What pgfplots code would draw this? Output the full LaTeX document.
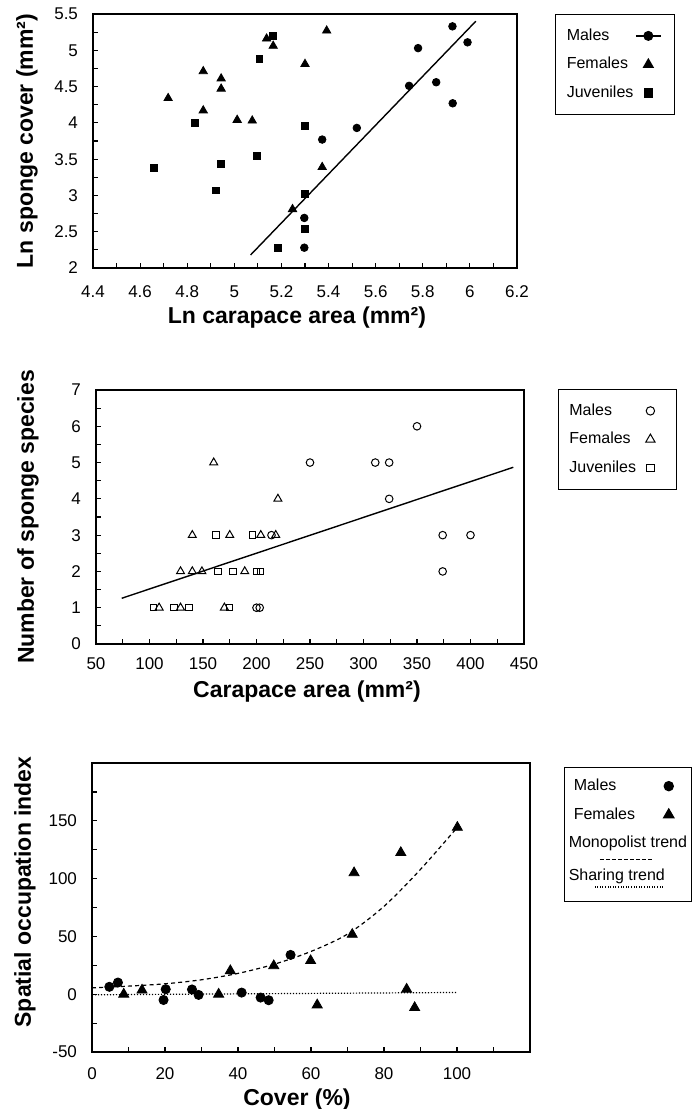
\documentclass[border=0pt]{standalone}
\usepackage{fontspec}
\setmainfont{Liberation Sans}
\usepackage{pgfplots}
\pgfplotsset{compat=1.18}

% dashed and dotted sample lines for the panel C key
\newcommand{\dashline}{\hbox to 29pt{\leaders\hbox to 3pt{\hss\vrule width 1.8pt height 0.5pt depth 0pt\hss}\hfill}}
\newcommand{\dotline}{\hbox to 36pt{\leaders\hbox to 1.3pt{\hss\vrule width 0.55pt height 0.55pt depth 0pt\hss}\hfill}}
\newcommand{\trendbox}{\vbox{\offinterlineskip
  \hbox{Monopolist trend}\kern3.9pt
  \hbox{\hspace*{15pt}\dashline}\kern4.5pt
  \hbox{Sharing trend}\kern1.4pt
  \hbox{\hspace*{12.5pt}\dotline}}}

\pgfplotsset{
  panel/.style={
    scale only axis, anchor=north west,
    axis line style={line width=1pt},
    tick pos=left, tick align=inside,
    major tick length=2.5pt, minor tick length=2.5pt,
    tick style={black, line width=0.6pt},
    /pgf/number format/assume math mode=true,
    ticklabel style={font=\fontsize{8.5}{10}\selectfont},
    yticklabel style={xshift=-4pt},
    label style={font=\bfseries\fontsize{11.5}{13}\selectfont},
    legend plot pos=right, legend cell align=left,
    legend image code/.code={
      \path[draw=none, fill=none] (0pt,-2pt) rectangle (15.75pt,2pt);
      \draw[mark repeat=2,mark phase=2,#1] plot coordinates {(0pt,0pt)(6.25pt,0pt)(12.5pt,0pt)};},
    legend style={anchor=north west, draw=black, line width=0.6pt,
      font=\fontsize{8}{9.6}\selectfont, inner xsep=3.5pt, inner ysep=5pt, row sep=3pt},
  },
}

\begin{document}
\begin{tikzpicture}
\path[use as bounding box] (0pt,0pt) rectangle (350pt,-554.5pt);

%% ---------------- A ----------------
\begin{axis}[panel,
  at={(46.5pt,-7pt)}, width=212pt, height=127pt,
  xmin=4.4, xmax=6.2, ymin=2, ymax=5.5,
  xtick={4.4,4.6,4.8,5,5.2,5.4,5.6,5.8,6,6.2},
  minor xtick={4.5,4.7,4.9,5.1,5.3,5.5,5.7,5.9,6.1},
  ytick={2,2.5,3,3.5,4,4.5,5,5.5},
  minor ytick={2.25,2.75,3.25,3.75,4.25,4.75,5.25},
  xticklabel style={yshift=-5.5pt},
  xlabel={Ln carapace area (mm²)},
  ylabel={Ln sponge cover (mm²)},
  xlabel style={at={(axis description cs:0.481,-0.197)}, anchor=center},
  ylabel style={at={(axis description cs:-0.156,0.5)}, anchor=center},
  legend style={at={(axis description cs:1.090,1)}},
]
% males
\addplot[forget plot, only marks, mark=*, mark size=1.9pt] coordinates {
  (5.926,5.33)(5.99,5.11)(5.78,5.03)(5.857,4.56)(5.742,4.51)
  (5.927,4.27)(5.52,3.93)(5.373,3.77)(5.297,2.69)(5.297,2.28)
};
% males regression
\addplot[forget plot, line width=0.7pt] coordinates {(5.069,2.18)(6.025,5.40)};
% females
\addplot[forget plot, only marks, mark=triangle*, mark size=2.4pt] coordinates {
  (4.719,4.34)(4.868,4.71)(4.944,4.61)(4.944,4.47)(4.868,4.17)
  (5.012,4.04)(5.076,4.03)(5.137,5.16)(5.165,5.06)(5.30,4.81)
  (5.392,5.27)(5.373,3.39)(5.247,2.81)
};
% juveniles
\addplot[forget plot, only marks, mark=square*, mark size=1.7pt] coordinates {
  (4.658,3.38)(4.832,4.00)(4.921,3.07)(4.944,3.44)(5.096,3.54)
  (5.106,4.88)(5.165,5.20)(5.30,3.96)(5.30,3.02)(5.30,2.54)(5.186,2.28)
};
\addlegendimage{black, line width=0.6pt, mark=*, mark size=2.2pt}
\addlegendentry{\makebox[32.25pt][l]{Males}}
\addlegendimage{only marks, mark=triangle*, mark size=2.7pt}
\addlegendentry{\makebox[32.25pt][l]{Females}}
\addlegendimage{only marks, mark=square*, mark size=2pt}
\addlegendentry{\makebox[32.25pt][l]{Juveniles}}
\node[font=\fontsize{10}{12}\selectfont] at (axis description cs:1.073,0.28) {A};
\end{axis}

%% ---------------- B ----------------
\begin{axis}[panel,
  at={(48pt,-195pt)}, width=214pt, height=127pt,
  xmin=50, xmax=450, ymin=0, ymax=7,
  xtick={50,100,...,450},
  minor xtick={75,125,...,425},
  ytick={0,1,...,7},
  minor ytick={0.5,1.5,...,6.5},
  xticklabel style={yshift=-3.5pt},
  xlabel={Carapace area (mm²)},
  ylabel={Number of sponge species},
  xlabel style={at={(axis description cs:0.493,-0.189)}, anchor=center},
  ylabel style={at={(axis description cs:-0.159,0.5)}, anchor=center},
  legend style={at={(axis description cs:1.079,1.004)}},
]
% males
\addplot[forget plot, only marks, mark=o, mark size=1.9pt, mark options={line width=0.5pt}] coordinates {
  (350,6)(250,5)(311,5)(324,5)(324,4)(214,3)(374,3)(400,3)(374,2)(200,1)(203,1)
};
% females
\addplot[forget plot, only marks, mark=triangle, mark size=2.3pt, mark options={line width=0.5pt}] coordinates {
  (160,5)(220,4)(140,3)(175,3)(204,3)(218,3)(129,2)(140,2)(149,2)(189,2)
  (109,1)(129,1)(170,1)
};
% juveniles
\addplot[forget plot, only marks, mark=square, mark size=1.6pt, mark options={line width=0.5pt}] coordinates {
  (162,3)(196,3)(164,2)(178,2)(200,2)(204,2)(104,1)(123,1)(137,1)(175,1)
};
% regression
\addplot[forget plot, line width=0.7pt] coordinates {(74,1.26)(440,4.87)};
\addlegendimage{only marks, mark=o, mark size=2.1pt, mark options={line width=0.5pt}}
\addlegendentry{\makebox[32.25pt][l]{Males}}
\addlegendimage{only marks, mark=triangle, mark size=2.7pt, mark options={line width=0.5pt}}
\addlegendentry{\makebox[32.25pt][l]{Females}}
\addlegendimage{only marks, mark=square, mark size=1.9pt, mark options={line width=0.5pt}}
\addlegendentry{\makebox[32.25pt][l]{Juveniles}}
\node[font=\fontsize{10}{12}\selectfont] at (axis description cs:1.054,0.5) {B};
\end{axis}

%% ---------------- C ----------------
\begin{axis}[panel,
  at={(46pt,-381.5pt)}, width=219pt, height=144.5pt,
  xmin=0, xmax=120, ymin=-50, ymax=200,
  xtick={0,20,...,100},
  minor xtick={10,30,...,110},
  ytick={-50,0,...,150},
  minor ytick={-25,25,...,175},
  xticklabel style={yshift=-4.5pt},
  xlabel={Cover (\%)},
  ylabel={Spatial occupation index},
  xlabel style={at={(axis description cs:0.468,-0.166)}, anchor=center},
  ylabel style={at={(axis description cs:-0.153,0.554)}, anchor=center},
  legend image code/.code={
    \path[draw=none, fill=none] (0pt,-2pt) rectangle (17.75pt,2pt);
    \draw[mark repeat=2,mark phase=2,#1] plot coordinates {(0pt,0pt)(6.25pt,0pt)(12.5pt,0pt)};},
  legend style={at={(axis description cs:1.078,0.986)}, inner xsep=0pt, inner ysep=3.6pt},
]
% monopolist trend
\addplot[forget plot, smooth, line width=0.6pt, dash pattern=on 2pt off 1.6pt] coordinates {
  (0,5.5)(10,7)(20,9)(30,12.5)(40,18)(50,26)(60,37)(70,52)(80,76)(90,108)(100,144)
};
% sharing trend
\addplot[forget plot, line width=0.6pt, dash pattern=on 0.6pt off 0.9pt] coordinates {
  (0,-0.5)(100,1.5)
};
% males
\addplot[forget plot, only marks, mark=*, mark size=2.3pt] coordinates {
  (4.75,6.4)(7.1,10.1)(19.6,-5.0)(20.2,4.3)(27.4,4.1)(29.2,-0.6)
  (41.0,1.4)(46.2,-2.9)(48.4,-5.2)(54.4,34.0)
};
% females
\addplot[forget plot, only marks, mark=triangle*, mark size=2.9pt] coordinates {
  (8.7,0)(13.7,3.5)(34.7,0)(37.9,20.3)(49.8,24.6)(59.9,29)(61.7,-9.3)
  (71.3,51.7)(71.8,105)(84.6,122.5)(86.2,4.3)(88.4,-11.6)(100.1,144.3)
};
\addlegendimage{only marks, mark=*, mark size=2.3pt}
\addlegendentry{\makebox[41.75pt][l]{\hspace*{2.5pt}Males}}
\addlegendimage{only marks, mark=triangle*, mark size=2.9pt}
\addlegendentry{\makebox[41.75pt][l]{\hspace*{2.5pt}Females}}
\addlegendimage{empty legend}
\addlegendentry{\makebox[41.75pt][l]{\trendbox}}
\node[font=\fontsize{10}{12}\selectfont] at (axis description cs:1.041,0.509) {C};
\end{axis}
\end{tikzpicture}
\end{document}
